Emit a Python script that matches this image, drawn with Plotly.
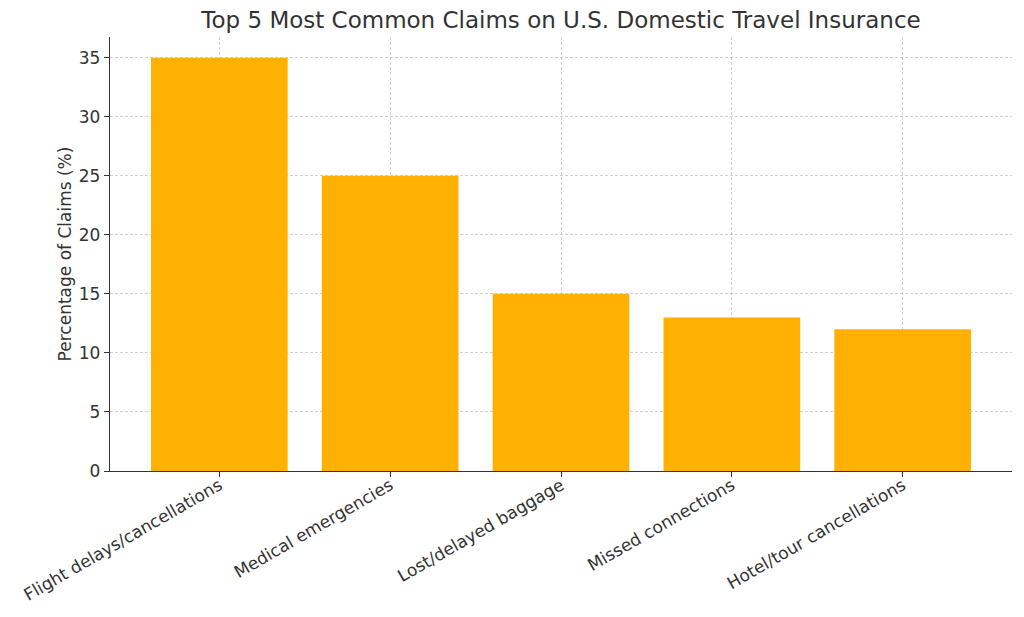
import plotly.graph_objects as go

categories = ["Flight delays/cancellations", "Medical emergencies", "Lost/delayed baggage",
              "Missed connections", "Hotel/tour cancellations"]
values = [35, 25, 15, 13, 12]
y_ticks = [0, 5, 10, 15, 20, 25, 30, 35]

fig = go.Figure()
fig.add_trace(go.Bar(x=list(range(len(categories))), y=values, width=0.8,
                     marker=dict(color="#FFB000", line=dict(width=0))))

font = "DejaVu Sans, Verdana, sans-serif"
grid = "rgba(170,170,170,0.55)"
W, H = 1016, 609
fig.update_layout(
    width=W, height=H,
    margin=dict(l=102, r=12, t=29, b=146),
    paper_bgcolor="white", plot_bgcolor="white",
    title=dict(text="Top 5 Most Common Claims on U.S. Domestic Travel Insurance",
               x=0.5, xref="paper", xanchor="center", y=1 - 12 / H, yref="container", yanchor="middle",
               font=dict(family=font, size=23, color="#333333")),
    font=dict(family=font, color="#333333"),
    showlegend=False,
    bargap=0.2,
)
fig.update_xaxes(
    range=[-0.64, 4.64], tickmode="array", tickvals=list(range(len(categories))),
    ticktext=categories, tickangle=-30, tickfont=dict(size=17, color="#333333"),
    ticklabelstandoff=-8,
    showline=True, linecolor="#333333", linewidth=1.3,
    ticks="outside", ticklen=5, tickcolor="#333333",
    showgrid=True, gridcolor=grid, griddash="3px,2px", gridwidth=1,
    layer="above traces", zeroline=False, automargin=False,
)
fig.update_yaxes(
    range=[0, 36.75], tickmode="array", tickvals=y_ticks,
    tickfont=dict(size=17, color="#333333"),
    title=dict(text="Percentage of Claims (%)", font=dict(size=17, color="#333333"), standoff=2),
    showline=True, linecolor="#333333", linewidth=1.3,
    ticks="outside", ticklen=5, tickcolor="#333333",
    showgrid=True, gridcolor=grid, griddash="3px,2px", gridwidth=1,
    layer="above traces", zeroline=False, automargin=False,
)
fig.write_html("out.html")
